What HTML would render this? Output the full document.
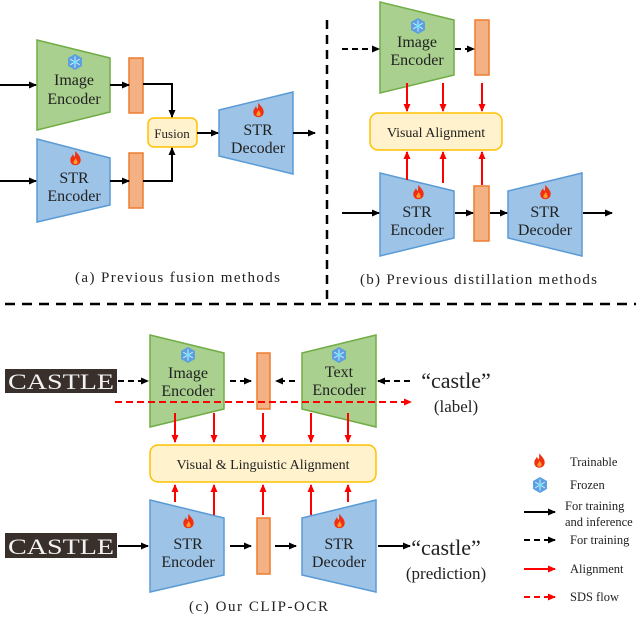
<!DOCTYPE html>
<html><head><meta charset="utf-8"><style>
html,body{margin:0;padding:0;background:#fff;}
svg{display:block;}
text{font-family:"Liberation Serif",serif;fill:#222;}
</style></head><body>
<svg width="640" height="617" viewBox="0 0 640 617" xmlns="http://www.w3.org/2000/svg">
<defs>
<marker id="ab" markerWidth="8" markerHeight="8" refX="7" refY="4" orient="auto" markerUnits="userSpaceOnUse"><path d="M0,0.5 L8,4 L0,7.5 z" fill="#000"/></marker>
<marker id="ar" markerWidth="8" markerHeight="8" refX="7" refY="4" orient="auto" markerUnits="userSpaceOnUse"><path d="M0,0.5 L8,4 L0,7.5 z" fill="#f00"/></marker>
<symbol id="flame" viewBox="0 0 20 24"><path d="M10,1 C13,6 18,9 18,15 C18,20 14,23 10,23 C5,23 2,20 2,15 C2,11 5,9 6,6 C7,9 8,10 9,10 C10,7 9,4 10,1 z" fill="#f03010"/><path d="M10,12 C12,15 14,17 13,20 C12,22 8,22 7,20 C6,17 9,16 10,12 z" fill="#ff9a30"/></symbol>
<symbol id="snow" viewBox="0 0 20 20"><polygon points="10,0 18.7,5 18.7,15 10,20 1.3,15 1.3,5" fill="#5b9fe0"/><g stroke="#cfe9ff" stroke-width="1.3"><line x1="10" y1="3" x2="10" y2="17"/><line x1="4" y1="6.5" x2="16" y2="13.5"/><line x1="4" y1="13.5" x2="16" y2="6.5"/></g><circle cx="10" cy="10" r="2" fill="#5ff0ff"/></symbol>
</defs>
<g stroke-width="1.5">
<polygon points="37,40 110,58 110,112 37,130" fill="#a9d08e" stroke="#70ad47"/>
<polygon points="37,139 110,158 110,205 37,222" fill="#9dc3e6" stroke="#5b9bd5"/>
<rect x="129" y="58" width="14" height="55" fill="#f4b183" stroke="#ed7d31"/>
<rect x="129" y="153" width="14" height="55" fill="#f4b183" stroke="#ed7d31"/>
<rect x="148" y="118" width="49" height="29" rx="6" fill="#fff2cc" stroke="#ffc000"/>
<polygon points="219,110 293,92 293,174 219,156" fill="#9dc3e6" stroke="#5b9bd5"/>
</g>
<use href="#snow" x="67" y="54" width="16" height="16"/>
<use href="#flame" x="69" y="150" width="13" height="16"/>
<use href="#flame" x="252" y="102" width="13" height="16"/>
<g font-size="16" text-anchor="middle">
<text x="74" y="85">Image</text><text x="74" y="104">Encoder</text>
<text x="74" y="183">STR</text><text x="74" y="201">Encoder</text>
<text x="258" y="135">STR</text><text x="258" y="153">Decoder</text>
</g>
<text x="172" y="138" font-size="13" text-anchor="middle">Fusion</text>
<g stroke="#000" stroke-width="2" fill="none" marker-end="url(#ab)">
<line x1="0" y1="85" x2="36" y2="85"/><line x1="0" y1="181" x2="36" y2="181"/>
<line x1="110" y1="85" x2="129" y2="85"/><line x1="110" y1="181" x2="129" y2="181"/>
<polyline points="143,84 172,84 172,117"/><polyline points="143,181 172,181 172,148"/>
<line x1="197" y1="133" x2="218" y2="133"/><line x1="293" y1="133" x2="315" y2="133"/>
</g>
<text x="75" y="282" font-size="15" textLength="205" lengthAdjust="spacing">(a)  Previous fusion methods</text>
<line x1="327" y1="20" x2="327" y2="300" stroke="#000" stroke-width="2.5" stroke-dasharray="9,6"/>
<line x1="5" y1="304" x2="636" y2="304" stroke="#000" stroke-width="2.5" stroke-dasharray="10,7"/>
<g stroke-width="1.5">
<polygon points="380,2 454,20 454,75 380,93" fill="#a9d08e" stroke="#70ad47"/>
<rect x="475" y="20" width="14" height="55" fill="#f4b183" stroke="#ed7d31"/>
<rect x="370" y="113" width="132" height="37" rx="8" fill="#fff2cc" stroke="#ffc000"/>
<polygon points="380,173 454,191 454,238 380,256" fill="#9dc3e6" stroke="#5b9bd5"/>
<rect x="474" y="186" width="15" height="55" fill="#f4b183" stroke="#ed7d31"/>
<polygon points="508,191 582,173 582,256 508,238" fill="#9dc3e6" stroke="#5b9bd5"/>
</g>
<use href="#snow" x="410" y="18" width="16" height="16"/>
<use href="#flame" x="412" y="184" width="13" height="16"/>
<use href="#flame" x="539" y="184" width="13" height="16"/>
<g font-size="16" text-anchor="middle">
<text x="417" y="47">Image</text><text x="417" y="65">Encoder</text>
<text x="417" y="217">STR</text><text x="417" y="235">Encoder</text>
<text x="545" y="217">STR</text><text x="545" y="235">Decoder</text>
</g>
<text x="436" y="137" font-size="14" text-anchor="middle">Visual Alignment</text>
<g stroke="#000" stroke-width="2" fill="none" marker-end="url(#ab)">
<line x1="342" y1="49" x2="379" y2="49" stroke-dasharray="6,4"/>
<line x1="455" y1="49" x2="474" y2="49" stroke-dasharray="6,4"/>
<line x1="342" y1="213" x2="379" y2="213"/>
<line x1="455" y1="213" x2="473" y2="213"/>
<line x1="490" y1="213" x2="507" y2="213"/>
<line x1="583" y1="213" x2="612" y2="213"/>
</g>
<g stroke="#f00" stroke-width="2" marker-end="url(#ar)">
<line x1="407" y1="83" x2="407" y2="111"/><line x1="443" y1="83" x2="443" y2="111"/><line x1="482" y1="83" x2="482" y2="111"/>
<line x1="407" y1="180" x2="407" y2="152"/><line x1="443" y1="183" x2="443" y2="152"/><line x1="482" y1="185" x2="482" y2="152"/>
</g>
<text x="360" y="284" font-size="15" textLength="237" lengthAdjust="spacing">(b)  Previous distillation methods</text>
<rect x="5" y="369" width="112" height="24" fill="#3a302b"/>
<rect x="5" y="533" width="112" height="25" fill="#3a302b"/>
<text x="8" y="389" font-size="22" style="fill:#f2f2f2;font-family:'Liberation Serif',serif" textLength="106" lengthAdjust="spacingAndGlyphs">CASTLE</text>
<text x="8" y="554" font-size="22" style="fill:#f2f2f2;font-family:'Liberation Serif',serif" textLength="106" lengthAdjust="spacingAndGlyphs">CASTLE</text>
<g stroke-width="1.5">
<polygon points="150,335 224,353 224,409 150,427" fill="#a9d08e" stroke="#70ad47"/>
<polygon points="302,353 376,335 376,427 302,409" fill="#a9d08e" stroke="#70ad47"/>
<rect x="257" y="353" width="13" height="56" fill="#f4b183" stroke="#ed7d31"/>
<rect x="150" y="445" width="226" height="37" rx="8" fill="#fff2cc" stroke="#ffc000"/>
<polygon points="150,500 224,518 224,575 150,592" fill="#9dc3e6" stroke="#5b9bd5"/>
<rect x="257" y="518" width="13" height="56" fill="#f4b183" stroke="#ed7d31"/>
<polygon points="302,518 376,500 376,592 302,575" fill="#9dc3e6" stroke="#5b9bd5"/>
</g>
<use href="#snow" x="180" y="347" width="16" height="16"/>
<use href="#snow" x="331" y="347" width="16" height="16"/>
<use href="#flame" x="182" y="513" width="13" height="16"/>
<use href="#flame" x="333" y="513" width="13" height="16"/>
<g font-size="16" text-anchor="middle">
<text x="188" y="378">Image</text><text x="188" y="396">Encoder</text>
<text x="339" y="377">Text</text><text x="339" y="395">Encoder</text>
<text x="188" y="549">STR</text><text x="188" y="567">Encoder</text>
<text x="339" y="549">STR</text><text x="339" y="567">Decoder</text>
</g>
<text x="263" y="469" font-size="14" text-anchor="middle">Visual &amp; Linguistic Alignment</text>
<g stroke="#000" stroke-width="2" fill="none" marker-end="url(#ab)">
<line x1="118" y1="381" x2="148" y2="381" stroke-dasharray="6,4"/>
<line x1="230" y1="381" x2="251" y2="381" stroke-dasharray="6,4"/>
<line x1="295" y1="381" x2="276" y2="381" stroke-dasharray="6,4"/>
<line x1="410" y1="381" x2="378" y2="381" stroke-dasharray="6,4"/>
<line x1="118" y1="546" x2="148" y2="546"/>
<line x1="230" y1="546" x2="251" y2="546"/>
<line x1="275" y1="546" x2="296" y2="546"/>
<line x1="378" y1="546" x2="410" y2="546"/>
</g>
<line x1="115" y1="402" x2="411" y2="402" stroke="#f00" stroke-width="2" stroke-dasharray="7,4" marker-end="url(#ar)"/>
<g stroke="#f00" stroke-width="2" marker-end="url(#ar)">
<line x1="175" y1="413" x2="175" y2="442"/><line x1="214" y1="413" x2="214" y2="442"/><line x1="263" y1="413" x2="263" y2="442"/><line x1="311" y1="413" x2="311" y2="442"/><line x1="348" y1="413" x2="348" y2="442"/>
<line x1="175" y1="502" x2="175" y2="485"/><line x1="214" y1="515" x2="214" y2="485"/><line x1="263" y1="515" x2="263" y2="485"/><line x1="311" y1="515" x2="311" y2="485"/><line x1="348" y1="502" x2="348" y2="485"/>
</g>
<text x="456" y="388" font-size="22" text-anchor="middle">“castle”</text>
<text x="456" y="412" font-size="17" text-anchor="middle">(label)</text>
<text x="446" y="555" font-size="22" text-anchor="middle">“castle”</text>
<text x="446" y="579" font-size="17" text-anchor="middle">(prediction)</text>
<text x="189" y="611" font-size="15" textLength="139" lengthAdjust="spacing">(c)  Our CLIP-OCR</text>
<use href="#flame" x="533" y="452" width="13" height="17"/>
<use href="#snow" x="532" y="477" width="16" height="16"/>
<g font-size="12.5">
<text x="570" y="466">Trainable</text>
<text x="570" y="489">Frozen</text>
<text x="565" y="510">For training</text>
<text x="565" y="526">and inference</text>
<text x="570" y="544">For training</text>
<text x="570" y="573">Alignment</text>
<text x="570" y="601">SDS flow</text>
</g>
<g stroke-width="2" fill="none">
<line x1="524" y1="512" x2="555" y2="512" stroke="#000" marker-end="url(#ab)"/>
<line x1="524" y1="540" x2="555" y2="540" stroke="#000" stroke-dasharray="6,4" marker-end="url(#ab)"/>
<line x1="524" y1="569" x2="555" y2="569" stroke="#f00" marker-end="url(#ar)"/>
<line x1="524" y1="597" x2="555" y2="597" stroke="#f00" stroke-dasharray="6,4" marker-end="url(#ar)"/>
</g>
</svg>
</body></html>
